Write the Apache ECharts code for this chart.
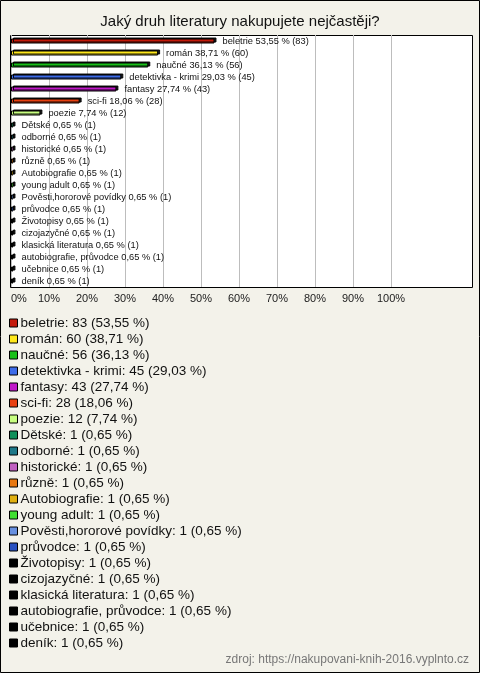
<!DOCTYPE html>
<html><head><meta charset="utf-8">
<script src="https://cdn.jsdelivr.net/npm/echarts@6/dist/echarts.min.js"></script>
<style>html,body{margin:0;padding:0;background:#f3f2ea}#c{width:480px;height:673px}</style>
</head><body><div id="c"></div>
<script>
const categories = ["beletrie","román","naučné","detektivka - krimi","fantasy","sci-fi","poezie","Dětské","odborné","historické","různě","Autobiografie","young adult","Pověsti,hororové povídky","průvodce","Životopisy","cizojazyčné","klasická literatura","autobiografie, průvodce","učebnice","deník"];
const counts = [83,60,56,45,43,28,12,1,1,1,1,1,1,1,1,1,1,1,1,1,1];
const percents = [53.55,38.71,36.13,29.03,27.74,18.06,7.74,0.65,0.65,0.65,0.65,0.65,0.65,0.65,0.65,0.65,0.65,0.65,0.65,0.65,0.65];
const colors = ["#c41a0a","#ffe81a","#18c018","#3d6be8","#c018c8","#e84010","#c8ff80","#10905a","#1e7888","#c060c0","#e87810","#e0b010","#40e030","#6890e0","#2850c0","#000000","#000000","#000000","#000000","#000000","#000000"];
const xTicks = [0,10,20,30,40,50,60,70,80,90,100];
const title = "Jaký druh literatury nakupujete nejčastěji?";
const source = "zdroj: https://nakupovani-knih-2016.vyplnto.cz";

const fmt = v => v.toFixed(2).replace('.', ',');
const legendName = i => categories[i] + ': ' + counts[i] + ' (' + fmt(percents[i]) + ' %)';

const series = categories.map((c, i) => ({
  name: legendName(i),
  type: 'bar',
  stack: 'all',
  barWidth: 5,
  data: categories.map((_, j) => j === i ? percents[i] : '-'),
  itemStyle: { color: colors[i], borderColor: '#000', borderWidth: 1, shadowColor: 'rgba(0,0,0,0.9)', shadowOffsetX: 2, shadowOffsetY: -1, shadowBlur: 0 },
  label: {
    show: true, position: 'right', distance: 8,
    fontFamily: 'Liberation Sans, Arial', fontSize: 9.3, color: '#111',
    formatter: () => categories[i] + ' ' + fmt(percents[i]) + ' % (' + counts[i] + ')'
  },
  emphasis: { disabled: true },
  animation: false
}));

const chart = echarts.init(document.getElementById('c'), null, { renderer: 'canvas' });
chart.setOption({
  backgroundColor: '#f3f2ea',
  animation: false,
  title: { text: title, left: 'center', top: 9, textStyle: { fontFamily: 'Liberation Sans, Arial', fontSize: 15, fontWeight: 'normal', color: '#111' } },
  graphic: [
    { type: 'rect', z: -10, shape: { x: 10.5, y: 35.5, width: 462, height: 252 }, style: { fill: '#fff', stroke: '#000', lineWidth: 1 } },
    { type: 'rect', z: 100, shape: { x: 0.5, y: 0.5, width: 479, height: 672 }, style: { fill: 'none', stroke: '#000', lineWidth: 1 } },
    { type: 'text', right: 11, top: 654, style: { text: source, fontFamily: 'Liberation Sans, Arial', fontSize: 12, fill: '#777' } }
  ],
  grid: { left: 11, top: 35, width: 380, height: 252, containLabel: false },
  xAxis: {
    type: 'value', min: xTicks[0], max: xTicks[xTicks.length - 1], interval: 10,
    axisLine: { show: false }, axisTick: { show: false },
    splitLine: { show: true, lineStyle: { color: '#bdbdbd', width: 1 } },
    axisLabel: { formatter: v => xTicks.includes(v) ? v + '%' : '', margin: 6, fontFamily: 'Liberation Sans, Arial', fontSize: 11, color: '#222', alignMinLabel: 'left' }
  },
  yAxis: { type: 'category', data: categories, inverse: true, show: false },
  legend: {
    orient: 'vertical', left: 4, top: 310, itemGap: 0, itemWidth: 8, itemHeight: 8, icon: 'rect',
    selectedMode: false,
    itemStyle: { borderColor: '#000', borderWidth: 1, shadowColor: 'rgba(0,0,0,0)', shadowBlur: 0, shadowOffsetX: 0, shadowOffsetY: 0 },
    textStyle: { fontFamily: 'Liberation Sans, Arial', fontSize: 13.5, color: '#111', lineHeight: 16, padding: [0, 0, 0, -2] },
    data: categories.map((_, i) => legendName(i))
  },
  series: series
});
</script></body></html>
